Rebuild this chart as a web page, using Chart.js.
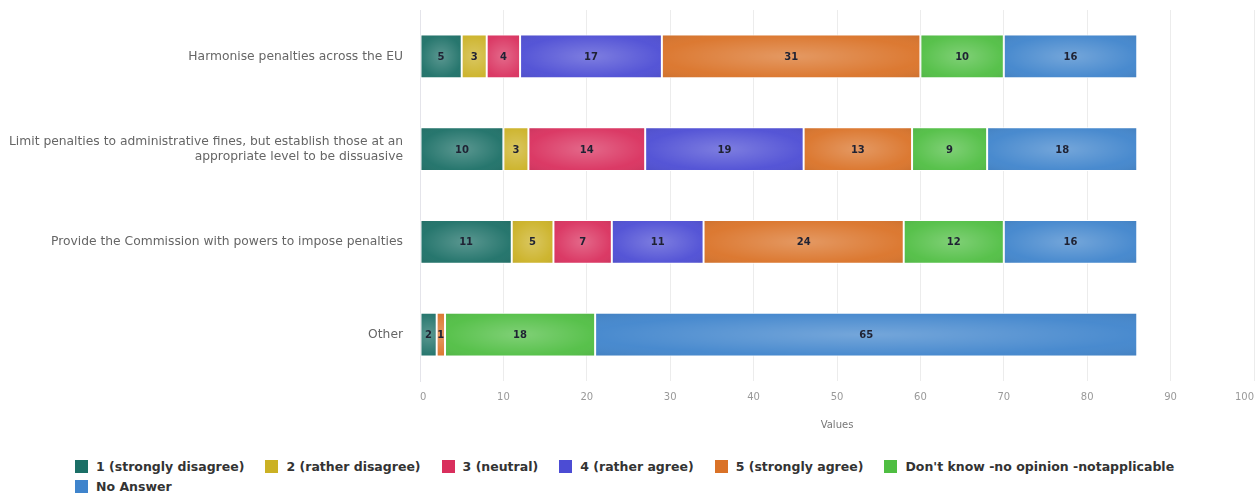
<!DOCTYPE html>
<html>
<head>
<meta charset="utf-8">
<script src="https://cdn.jsdelivr.net/npm/chart.js@4/dist/chart.umd.min.js"></script>
<style>
  body { margin: 0; background: #fff; }
  #wrap { position: relative; width: 1255px; height: 445px; }
  #legend { position: absolute; left: 75px; top: 459px; width: 1170px; font: bold 12.5px "DejaVu Sans", sans-serif; color: #333; }
  #legend span.item { display: inline-block; margin-right: 21px; height: 19px; line-height: 14px; white-space: nowrap; }
  #legend span.box { display: inline-block; width: 13px; height: 13px; vertical-align: top; margin-right: 8px; }
</style>
</head>
<body>
<div id="wrap"><canvas id="myChart"></canvas></div>
<div id="legend"></div>
<script>
var categories = [
  'Harmonise penalties across the EU',
  ['Limit penalties to administrative fines, but establish those at an', 'appropriate level to be dissuasive'],
  'Provide the Commission with powers to impose penalties',
  'Other'
];
var seriesNames = ['1 (strongly disagree)', '2 (rather disagree)', '3 (neutral)', '4 (rather agree)',
  '5 (strongly agree)', "Don't know -no opinion -notapplicable", 'No Answer'];
var stronglyDisagree = [5, 10, 11, 2];
var ratherDisagree = [3, 3, 5, 0];
var neutral = [4, 14, 7, 0];
var ratherAgree = [17, 19, 11, 0];
var stronglyAgree = [31, 13, 24, 1];
var dontKnow = [10, 9, 12, 18];
var noAnswer = [16, 18, 16, 65];
var colors = ['#1b6f66', '#cbb124', '#d92f5d', '#4c4cd4', '#da7227', '#4fbe42', '#3f84cc'];

var values = [stronglyDisagree, ratherDisagree, neutral, ratherAgree, stronglyAgree, dontKnow, noAnswer];
var datasets = [];
for (var i = 0; i < values.length; i++) {
  datasets.push({
    label: seriesNames[i],
    data: values[i],
    backgroundColor: colors[i],
    borderColor: '#ffffff',
    borderWidth: 1,
    borderSkipped: false
  });
}

// glossy shading on each segment, then the value in its middle
var barLabels = {
  id: 'barLabels',
  afterDatasetsDraw: function(chart) {
    var ctx = chart.ctx;
    chart.data.datasets.forEach(function(ds, di) {
      chart.getDatasetMeta(di).data.forEach(function(bar, j) {
        if (!ds.data[j]) return;
        var p = bar.getProps(['x', 'base', 'y', 'height'], true);
        var x0 = Math.min(p.x, p.base) + 1, w = Math.abs(p.x - p.base) - 2;
        var h = p.height - 2, y0 = p.y - h / 2;
        if (w <= 0) return;
        ctx.save();
        ctx.beginPath();
        ctx.rect(x0, y0, w, h);
        ctx.clip();
        ctx.translate(x0 + w / 2, p.y);
        ctx.scale(Math.max(w / h, 1), 1);
        var g = ctx.createRadialGradient(0, 0, 0, 0, 0, h * 0.85);
        g.addColorStop(0, 'rgba(255,255,255,0.28)');
        g.addColorStop(0.6, 'rgba(255,255,255,0.05)');
        g.addColorStop(1, 'rgba(0,0,0,0.15)');
        ctx.fillStyle = g;
        ctx.fillRect(-w, -h, 2 * w, 2 * h);
        ctx.restore();
      });
    });
    ctx.save();
    ctx.font = 'bold 10px "DejaVu Sans", sans-serif';
    ctx.fillStyle = '#1f2233';
    ctx.textAlign = 'center';
    ctx.textBaseline = 'middle';
    chart.data.datasets.forEach(function(ds, di) {
      chart.getDatasetMeta(di).data.forEach(function(bar, j) {
        if (!ds.data[j]) return;
        var p = bar.getProps(['x', 'base', 'y'], true);
        ctx.fillText(ds.data[j], (p.x + p.base) / 2, p.y + 1);
      });
    });
    ctx.restore();
  }
};

const config = {
  type: 'bar',
  data: { labels: categories, datasets: datasets },
  options: {
    indexAxis: 'y',
    responsive: true,
    maintainAspectRatio: false,
    animation: false,
    layout: { padding: { top: 10, right: 1, bottom: 10, left: 0 } },
    datasets: { bar: { categoryPercentage: 1, barPercentage: 0.47 } },
    scales: {
      x: {
        stacked: true,
        min: 0,
        max: 100,
        ticks: { stepSize: 10, align: 'inner', color: '#999', font: { family: 'DejaVu Sans', size: 10 }, padding: 10 },
        grid: { color: '#ececec', drawTicks: false },
        border: { display: false },
        title: { display: true, text: 'Values', color: '#777', font: { family: 'DejaVu Sans', size: 10 }, padding: { top: 6, bottom: 4 } },
        afterFit: function(scale) {
          scale.paddingLeft = 0;
          scale.paddingRight = 0;
        }
      },
      y: {
        stacked: true,
        ticks: { color: '#666', font: { family: 'DejaVu Sans', size: 12.3 }, padding: 9 },
        grid: { display: false },
        border: { color: '#e4e4ea', width: 1 },
        afterFit: function(scale) {
          scale.width = 420;
          scale.paddingTop = 0;
          scale.paddingBottom = 0;
        }
      }
    },
    plugins: {
      legend: { display: false },
      tooltip: { enabled: false }
    }
  },
  plugins: [barLabels]
};
var ctx = document.getElementById('myChart').getContext('2d');
var myChart = new Chart(ctx, config);

var lg = document.getElementById('legend');
myChart.data.datasets.forEach(function(ds) {
  var item = document.createElement('span');
  item.className = 'item';
  var box = document.createElement('span');
  box.className = 'box';
  box.style.background = ds.backgroundColor;
  item.appendChild(box);
  item.appendChild(document.createTextNode(ds.label));
  lg.appendChild(item);
});
</script>
</body>
</html>
